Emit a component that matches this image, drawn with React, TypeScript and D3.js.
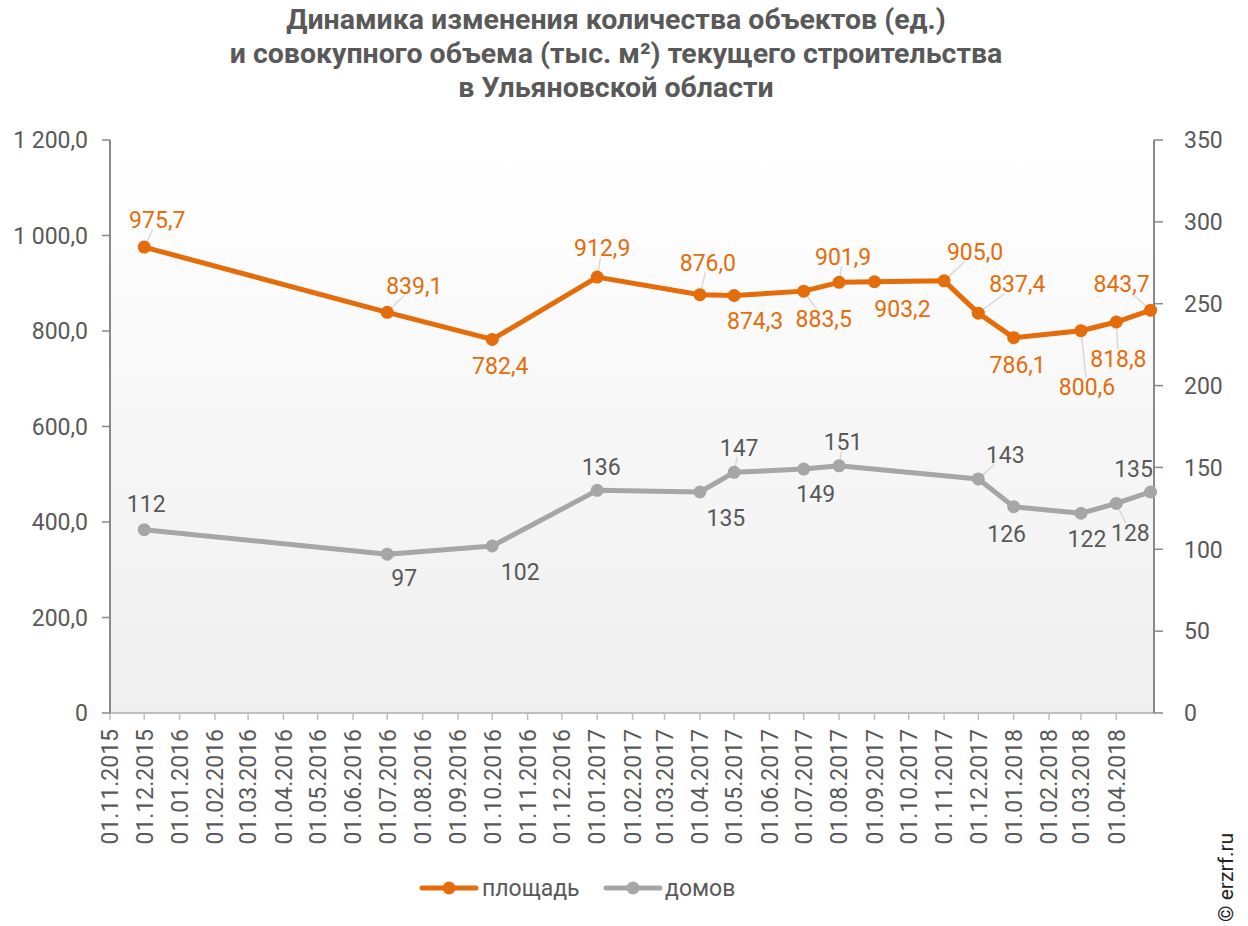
import React from "react";
import * as d3 from "d3";

// ---------- data ----------
const titleLines = [
  "Динамика изменения количества объектов (ед.)",
  "и совокупного объема (тыс. м²) текущего строительства",
  "в Ульяновской области",
];

const seriesNames = ["площадь", "домов"];

const areaDates = [
  "2015-12-01", "2016-07-01", "2016-10-01", "2017-01-01", "2017-04-01",
  "2017-05-01", "2017-07-01", "2017-08-01", "2017-09-01", "2017-11-01",
  "2017-12-01", "2018-01-01", "2018-03-01", "2018-04-01", "2018-05-01",
];
const areaValues = [
  975.7, 839.1, 782.4, 912.9, 876.0, 874.3, 883.5, 901.9, 903.2, 905.0,
  837.4, 786.1, 800.6, 818.8, 843.7,
];

const houseDates = [
  "2015-12-01", "2016-07-01", "2016-10-01", "2017-01-01", "2017-04-01",
  "2017-05-01", "2017-07-01", "2017-08-01", "2017-12-01", "2018-01-01",
  "2018-03-01", "2018-04-01", "2018-05-01",
];
const houseValues = [112, 97, 102, 136, 135, 147, 149, 151, 143, 126, 122, 128, 135];

const leftTicks = [0, 200, 400, 600, 800, 1000, 1200];
const rightTicks = [0, 50, 100, 150, 200, 250, 300, 350];

const axisStart = "2015-11-01";
const axisEnd = "2018-05-04";
const firstTickLabel = "2015-11-01";
const lastTickLabel = "2018-04-01";

// label placement (offset of label centre from its point) and leader-line flags
const areaLabelOffsets = [
  [13, -27], [27, -27], [8, 26], [5, -29], [8, -32], [21, 25], [20, 28], [4, -26],
  [28, 27], [31, -29], [39, -29], [4, 27], [6, 56], [2, 37], [-29, -26],
];
const areaLeaders = [1, 1, 0, 1, 1, 0, 1, 1, 0, 1, 1, 0, 1, 1, 1];
const houseLabelOffsets = [
  [2, -26], [17, 24], [28, 26], [4, -24], [26, 26], [5, -25], [12, 25], [4, -24],
  [27, -24], [-7, 27], [6, 25], [14, 29], [-17, -23],
];
const houseLeaders = [0, 0, 0, 0, 0, 1, 0, 1, 1, 0, 0, 1, 0];

// ---------- styles ----------
const W = 1248;
const H = 926;
const M = { left: 110, right: 1154, top: 140, bottom: 713 };
const ORANGE = "#E46C0A";
const GRAY = "#A6A6A6";
const TEXT = "#595959";
const FONT = "Roboto, 'Noto Sans', sans-serif";
const FS = 23;

const parse = d3.timeParse("%Y-%m-%d");
const ru = d3.formatLocale({
  decimal: ",",
  thousands: "\u00a0",
  grouping: [3],
  currency: ["", ""],
});
const fmtAxis = (v: number) => (v === 0 ? "0" : ru.format(",.1f")(v));
const fmtArea = (v: number) => ru.format(".1f")(v);
const fmtHouse = (v: number) => String(v);
const fmtDate = d3.timeFormat("%d.%m.%Y");

function leaderEnd(px: number, py: number, lx: number, ly: number, w: number, h: number) {
  const dx = lx - px;
  const dy = ly - py;
  const hw = w / 2 + 2;
  const hh = h / 2 + 1;
  const tx = dx !== 0 ? (Math.abs(dx) - hw) / Math.abs(dx) : -Infinity;
  const ty = dy !== 0 ? (Math.abs(dy) - hh) / Math.abs(dy) : -Infinity;
  const t = Math.max(tx, ty);
  return [px + dx * t, py + dy * t];
}

export default function App() {
  const x = d3
    .scaleTime()
    .domain([parse(axisStart)!, parse(axisEnd)!])
    .range([M.left, M.right]);
  const yL = d3.scaleLinear().domain([0, 1200]).range([M.bottom, M.top]);
  const yR = d3.scaleLinear().domain([0, 350]).range([M.bottom, M.top]);

  const monthTicks = d3.timeMonth.range(
    parse(firstTickLabel)!,
    d3.timeDay.offset(parse(lastTickLabel)!, 1)
  );

  const areaPts = areaDates.map((d, i) => ({ x: x(parse(d)!), y: yL(areaValues[i]), v: areaValues[i] }));
  const housePts = houseDates.map((d, i) => ({ x: x(parse(d)!), y: yR(houseValues[i]), v: houseValues[i] }));

  const line = d3
    .line<{ x: number; y: number }>()
    .x((d) => d.x)
    .y((d) => d.y);

  const renderLabels = (
    pts: { x: number; y: number; v: number }[],
    offsets: number[][],
    leaders: number[],
    fmt: (v: number) => string,
    color: string,
    key: string
  ) =>
    pts.map((p, i) => {
      const txt = fmt(p.v);
      const lx = p.x + offsets[i][0];
      const ly = p.y + offsets[i][1];
      const w = txt.length * FS * 0.5;
      const h = FS * 0.75;
      let leader = null;
      if (leaders[i]) {
        const [ex, ey] = leaderEnd(p.x, p.y, lx, ly, w, h);
        leader = (
          <line x1={p.x} y1={p.y} x2={ex} y2={ey} stroke="#D9D9D9" strokeWidth={1.5} />
        );
      }
      return (
        <g key={key + i}>
          {leader}
          <text
            x={lx}
            y={ly}
            dy="0.36em"
            textAnchor="middle"
            fill={color}
            fontSize={FS}
            fontFamily={FONT}
          >
            {txt}
          </text>
        </g>
      );
    });

  return (
    <svg
      width={W}
      height={H}
      style={{ position: "absolute", left: 0, top: 0, background: "#fff" }}
    >
      <defs>
        <linearGradient id="plotBg" x1="0" y1="0" x2="0" y2="1">
          <stop offset="0" stopColor="#ffffff" />
          <stop offset="1" stopColor="#efefef" />
        </linearGradient>
      </defs>

      {/* title */}
      {titleLines.map((t, i) => (
        <text
          key={"t" + i}
          x={616}
          y={29 + i * 34}
          textAnchor="middle"
          fontFamily={FONT}
          fontWeight="bold"
          fontSize={28.5}
          fill={TEXT}
        >
          {t}
        </text>
      ))}

      {/* plot background */}
      <rect x={M.left} y={M.top} width={M.right - M.left} height={M.bottom - M.top} fill="url(#plotBg)" />

      {/* x axis */}
      <line x1={M.left} x2={M.right} y1={M.bottom} y2={M.bottom} stroke="#BFBFBF" strokeWidth={2} />
      {monthTicks.map((d, i) => {
        const xx = x(d);
        return (
          <g key={"xt" + i}>
            <line x1={xx} x2={xx} y1={M.bottom} y2={M.bottom + 7} stroke="#BFBFBF" strokeWidth={1.5} />
            <text
              transform={`translate(${xx},${M.bottom + 16}) rotate(-90)`}
              textAnchor="end"
              dy="0.36em"
              fontFamily={FONT}
              fontSize={FS}
              fill={TEXT}
            >
              {fmtDate(d)}
            </text>
          </g>
        );
      })}

      {/* left axis */}
      <line x1={M.left} x2={M.left} y1={M.top} y2={M.bottom} stroke="#898989" strokeWidth={2} />
      {leftTicks.map((v) => (
        <g key={"yl" + v}>
          <line x1={M.left - 8} x2={M.left} y1={yL(v)} y2={yL(v)} stroke="#898989" strokeWidth={1.5} />
          <text x={88} y={yL(v)} dy="0.36em" textAnchor="end" fontFamily={FONT} fontSize={FS} fill={TEXT}>
            {fmtAxis(v)}
          </text>
        </g>
      ))}

      {/* right axis */}
      <line x1={M.right} x2={M.right} y1={M.top} y2={M.bottom} stroke="#898989" strokeWidth={2} />
      {rightTicks.map((v) => (
        <g key={"yr" + v}>
          <line x1={M.right} x2={M.right + 9} y1={yR(v)} y2={yR(v)} stroke="#898989" strokeWidth={1.5} />
          <text x={1184} y={yR(v)} dy="0.36em" textAnchor="start" fontFamily={FONT} fontSize={FS} fill={TEXT}>
            {v}
          </text>
        </g>
      ))}

      {/* leader lines + labels */}
      {renderLabels(housePts, houseLabelOffsets, houseLeaders, fmtHouse, TEXT, "hl")}
      {renderLabels(areaPts, areaLabelOffsets, areaLeaders, fmtArea, ORANGE, "al")}

      {/* series */}
      <path d={line(housePts) || ""} fill="none" stroke={GRAY} strokeWidth={5} strokeLinejoin="round" />
      {housePts.map((p, i) => (
        <circle key={"hc" + i} cx={p.x} cy={p.y} r={6.5} fill={GRAY} />
      ))}
      <path d={line(areaPts) || ""} fill="none" stroke={ORANGE} strokeWidth={5} strokeLinejoin="round" />
      {areaPts.map((p, i) => (
        <circle key={"ac" + i} cx={p.x} cy={p.y} r={6.5} fill={ORANGE} />
      ))}

      {/* legend */}
      <g>
        <line x1={422} x2={476} y1={888} y2={888} stroke={ORANGE} strokeWidth={5} strokeLinecap="round" />
        <circle cx={449} cy={888} r={6.5} fill={ORANGE} />
        <text x={482} y={888} dy="0.36em" fontFamily={FONT} fontSize={FS} fill={TEXT}>
          {seriesNames[0]}
        </text>
        <line x1={606} x2={660} y1={888} y2={888} stroke={GRAY} strokeWidth={5} strokeLinecap="round" />
        <circle cx={633} cy={888} r={6.5} fill={GRAY} />
        <text x={665} y={888} dy="0.36em" fontFamily={FONT} fontSize={FS} fill={TEXT}>
          {seriesNames[1]}
        </text>
      </g>

      {/* watermark */}
      <text
        transform="translate(1225,922) rotate(-90)"
        dy="0.36em"
        fontFamily={FONT}
        fontSize={21}
        fill="#222"
      >
        © erzrf.ru
      </text>
    </svg>
  );
}
